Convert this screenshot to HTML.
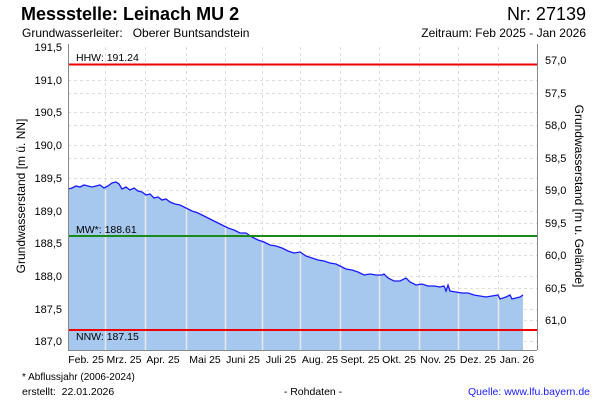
<!DOCTYPE html>
<html><head><meta charset="utf-8"><style>
body{margin:0;background:#fff;width:600px;height:400px;overflow:hidden}
svg{font-family:"Liberation Sans",sans-serif}
text{white-space:pre}
</style></head><body>
<svg width="600" height="400" viewBox="0 0 600 400">
<text x="21" y="20" font-size="18" font-weight="bold">Messstelle: Leinach MU 2</text>
<text x="586" y="20" font-size="18" text-anchor="end">Nr: 27139</text>
<text x="22" y="37" font-size="12">Grundwasserleiter:&#160;&#160;&#160;Oberer Buntsandstein</text>
<text x="586" y="37" font-size="12" text-anchor="end">Zeitraum: Feb 2025 - Jan 2026</text>
<g stroke="#ddd" stroke-dasharray="3,3" stroke-width="1">
<line x1="68" x2="537" y1="80.5" y2="80.5"/><line x1="68" x2="537" y1="112.5" y2="112.5"/><line x1="68" x2="537" y1="145.5" y2="145.5"/><line x1="68" x2="537" y1="178.5" y2="178.5"/><line x1="68" x2="537" y1="211.5" y2="211.5"/><line x1="68" x2="537" y1="243.5" y2="243.5"/><line x1="68" x2="537" y1="276.5" y2="276.5"/><line x1="68" x2="537" y1="309.5" y2="309.5"/><line x1="68" x2="537" y1="341.5" y2="341.5"/>
<line x1="68" x2="537" y1="93.5" y2="93.5"/><line x1="68" x2="537" y1="125.5" y2="125.5"/><line x1="68" x2="537" y1="158.5" y2="158.5"/><line x1="68" x2="537" y1="190.5" y2="190.5"/><line x1="68" x2="537" y1="223.5" y2="223.5"/><line x1="68" x2="537" y1="255.5" y2="255.5"/><line x1="68" x2="537" y1="288.5" y2="288.5"/><line x1="68" x2="537" y1="320.5" y2="320.5"/>
<line y1="47" y2="350" x1="105.5" x2="105.5"/><line y1="47" y2="350" x1="145.5" x2="145.5"/><line y1="47" y2="350" x1="186.5" x2="186.5"/><line y1="47" y2="350" x1="225.5" x2="225.5"/><line y1="47" y2="350" x1="262.5" x2="262.5"/><line y1="47" y2="350" x1="300.5" x2="300.5"/><line y1="47" y2="350" x1="340.5" x2="340.5"/><line y1="47" y2="350" x1="379.5" x2="379.5"/><line y1="47" y2="350" x1="419.5" x2="419.5"/><line y1="47" y2="350" x1="458.5" x2="458.5"/><line y1="47" y2="350" x1="498.5" x2="498.5"/>
</g>
<polygon fill="#a6c8ee" points="68,350 68,189 72,188 76,186 80,187 84,185 88,186 92,187 96,186 100,185 104,188 108,186 112,183 116,182 119,184 122,189 126,187 130,190 134,188 138,191 142,192 146,195 150,194 154,198 158,197 162,200 166,199 170,202 175,204 180,205 186,208 192,211 198,213 204,216 210,219 216,222 222,225 228,228 234,230 240,233 246,233 252,237 258,240 264,242 270,245 276,246 282,248 288,251 294,253 300,252 306,256 312,258 318,260 324,261 330,263 336,264 340,266 346,269 352,270 358,272 364,275 370,274 376,275 382,275 384,274 388,278 394,281 400,281 406,278 410,282 416,285 422,284 428,286 434,286 440,287 444,286 446,291 448,285 450,291 456,292 462,293 468,293 474,295 480,296 486,297 492,296 498,295 500,299 506,297 510,295 512,299 516,298 520,297 523,295 523,350"/>
<g stroke="#e8e8e8" stroke-width="1.5">
<line y1="190" y2="350" x1="105.5" x2="105.5"/><line y1="195" y2="350" x1="145.5" x2="145.5"/><line y1="208" y2="350" x1="186.5" x2="186.5"/><line y1="226" y2="350" x1="225.5" x2="225.5"/><line y1="243" y2="350" x1="262.5" x2="262.5"/><line y1="253" y2="350" x1="300.5" x2="300.5"/><line y1="267" y2="350" x1="340.5" x2="340.5"/><line y1="276" y2="350" x1="379.5" x2="379.5"/><line y1="285" y2="350" x1="419.5" x2="419.5"/><line y1="294" y2="350" x1="458.5" x2="458.5"/><line y1="296" y2="350" x1="498.5" x2="498.5"/>
</g>
<polyline fill="none" stroke="#1a1aff" stroke-width="1.3" points="68,189 72,188 76,186 80,187 84,185 88,186 92,187 96,186 100,185 104,188 108,186 112,183 116,182 119,184 122,189 126,187 130,190 134,188 138,191 142,192 146,195 150,194 154,198 158,197 162,200 166,199 170,202 175,204 180,205 186,208 192,211 198,213 204,216 210,219 216,222 222,225 228,228 234,230 240,233 246,233 252,237 258,240 264,242 270,245 276,246 282,248 288,251 294,253 300,252 306,256 312,258 318,260 324,261 330,263 336,264 340,266 346,269 352,270 358,272 364,275 370,274 376,275 382,275 384,274 388,278 394,281 400,281 406,278 410,282 416,285 422,284 428,286 434,286 440,287 444,286 446,291 448,285 450,291 456,292 462,293 468,293 474,295 480,296 486,297 492,296 498,295 500,299 506,297 510,295 512,299 516,298 520,297 523,295"/>
<line x1="68" x2="537" y1="64.5" y2="64.5" stroke="#e00" stroke-width="2"/>
<line x1="68" x2="537" y1="236" y2="236" stroke="#1a8a1a" stroke-width="2"/>
<line x1="68" x2="537" y1="330" y2="330" stroke="#e00" stroke-width="2"/>
<g font-size="10.5"><text x="76" y="61">HHW: 191.24</text><text x="76" y="233">MW*: 188.61</text><text x="76" y="340">NNW: 187.15</text></g>
<g stroke="#888" fill="none"><line x1="68.5" x2="68.5" y1="44" y2="350"/><line x1="537.5" x2="537.5" y1="44" y2="350"/><line x1="68" x2="537" y1="350.5" y2="350.5"/></g>
<g font-size="11" text-anchor="end">
<text x="62" y="51">191,5</text><text x="62" y="84">191,0</text><text x="62" y="116">190,5</text><text x="62" y="149">190,0</text><text x="62" y="182">189,5</text><text x="62" y="215">189,0</text><text x="62" y="247">188,5</text><text x="62" y="280">188,0</text><text x="62" y="313">187,5</text><text x="62" y="345">187,0</text></g>
<g font-size="11">
<text x="545" y="64">57,0</text><text x="545" y="97">57,5</text><text x="545" y="129">58,0</text><text x="545" y="162">58,5</text><text x="545" y="194">59,0</text><text x="545" y="227">59,5</text><text x="545" y="259">60,0</text><text x="545" y="292">60,5</text><text x="545" y="324">61,0</text></g>
<text transform="translate(25,196) rotate(-90)" font-size="12" text-anchor="middle">Grundwasserstand [m ü. NN]</text>
<text transform="translate(575,196) rotate(90)" font-size="12" text-anchor="middle">Grundwasserstand [m u. Gelände]</text>
<g font-size="10.5" text-anchor="middle">
<text x="86" y="363">Feb. 25</text><text x="124" y="363">Mrz. 25</text><text x="163" y="363">Apr. 25</text><text x="205" y="363">Mai 25</text><text x="243" y="363">Juni 25</text><text x="281" y="363">Juli 25</text><text x="320" y="363">Aug. 25</text><text x="360" y="363">Sept. 25</text><text x="399" y="363">Okt. 25</text><text x="438" y="363">Nov. 25</text><text x="478" y="363">Dez. 25</text><text x="517" y="363">Jan. 26</text></g>
<text x="22" y="380" font-size="10">* Abflussjahr (2006-2024)</text>
<text x="22" y="395" font-size="10.5">erstellt:&#160;&#160;22.01.2026</text>
<text x="313" y="395" font-size="10.5" text-anchor="middle">- Rohdaten -</text>
<text x="590" y="395" font-size="10.5" text-anchor="end" fill="#1a1aff">Quelle: www.lfu.bayern.de</text>
</svg>
</body></html>
